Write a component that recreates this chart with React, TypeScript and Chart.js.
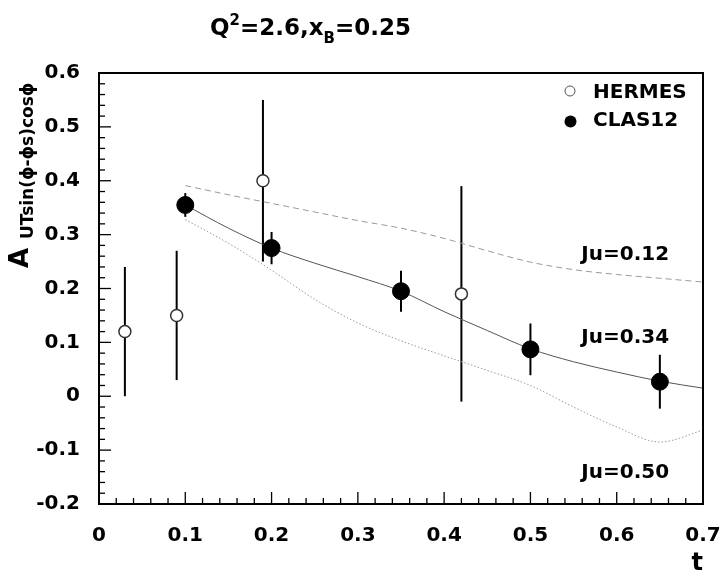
import React, { useEffect, useRef } from 'react';
import { Chart, registerables } from 'chart.js';

Chart.register(...registerables);

// ---- data ----
const curveT = [0.1, 0.15, 0.2, 0.25, 0.3, 0.35, 0.4, 0.45, 0.5, 0.55, 0.6, 0.65, 0.7];
const curveJu012 = [0.391, 0.374, 0.358, 0.342, 0.326, 0.312, 0.293, 0.27, 0.249, 0.235, 0.226, 0.219, 0.212];
const curveJu034 = [0.355, 0.312, 0.275, 0.247, 0.222, 0.195, 0.157, 0.122, 0.088, 0.064, 0.045, 0.028, 0.015];
const curveJu050 = [0.328, 0.284, 0.234, 0.18, 0.136, 0.103, 0.075, 0.048, 0.02, -0.02, -0.057, -0.085, -0.063];

const hermesT = [0.03, 0.09, 0.19, 0.42];
const hermesA = [0.12, 0.15, 0.4, 0.19];
const hermesErr = [0.12, 0.12, 0.15, 0.2];

const clasT = [0.1, 0.2, 0.35, 0.5, 0.65];
const clasA = [0.355, 0.275, 0.195, 0.087, 0.027];
const clasErr = [0.022, 0.03, 0.038, 0.048, 0.05];

const xTickValues = [0, 0.1, 0.2, 0.3, 0.4, 0.5, 0.6, 0.7];
const yTickValues = [-0.2, -0.1, 0, 0.1, 0.2, 0.3, 0.4, 0.5, 0.6];
const minorDivisions = 5;

const seriesNames = ['HERMES', 'CLAS12'];
const curveLabels = ['Ju=0.12', 'Ju=0.34', 'Ju=0.50'];
const curveLabelT = [0.559, 0.559, 0.559];
const curveLabelA = [0.253, 0.098, -0.152];

const FONT = '"DejaVu Sans", sans-serif';

function pts(xs: number[], ys: number[]) {
  return xs.map((x, i) => ({ x, y: ys[i] }));
}

const errorBarPlugin = {
  id: 'errorBars',
  beforeDatasetsDraw(chart: any) {
    const { ctx, scales } = chart;
    ctx.save();
    ctx.strokeStyle = '#000';
    ctx.lineWidth = 2;
    chart.data.datasets.forEach((ds: any) => {
      if (!ds.errors) return;
      ds.data.forEach((p: any, i: number) => {
        const px = scales.x.getPixelForValue(p.x);
        const y1 = scales.y.getPixelForValue(p.y - ds.errors[i]);
        const y2 = scales.y.getPixelForValue(p.y + ds.errors[i]);
        ctx.beginPath();
        ctx.moveTo(px, y1);
        ctx.lineTo(px, y2);
        ctx.stroke();
      });
    });
    ctx.restore();
  },
};

const decorPlugin = {
  id: 'decor',
  afterDatasetsDraw(chart: any) {
    const { ctx, chartArea: a, scales } = chart;
    const xs = scales.x;
    const ys = scales.y;
    ctx.save();
    ctx.strokeStyle = '#000';
    ctx.lineWidth = 1.3;
    // y ticks (inside, left)
    for (let i = 0; i < yTickValues.length; i++) {
      const v = yTickValues[i];
      const py = ys.getPixelForValue(v);
      ctx.beginPath();
      ctx.moveTo(a.left, py);
      ctx.lineTo(a.left + 12, py);
      ctx.stroke();
      if (i < yTickValues.length - 1) {
        const step = (yTickValues[i + 1] - v) / minorDivisions;
        for (let k = 1; k < minorDivisions; k++) {
          const my = ys.getPixelForValue(v + k * step);
          ctx.beginPath();
          ctx.moveTo(a.left, my);
          ctx.lineTo(a.left + 6, my);
          ctx.stroke();
        }
      }
    }
    // x ticks (inside, bottom)
    for (let i = 0; i < xTickValues.length; i++) {
      const v = xTickValues[i];
      const px = xs.getPixelForValue(v);
      ctx.beginPath();
      ctx.moveTo(px, a.bottom);
      ctx.lineTo(px, a.bottom - 12);
      ctx.stroke();
      if (i < xTickValues.length - 1) {
        const step = (xTickValues[i + 1] - v) / minorDivisions;
        for (let k = 1; k < minorDivisions; k++) {
          const mx = xs.getPixelForValue(v + k * step);
          ctx.beginPath();
          ctx.moveTo(mx, a.bottom);
          ctx.lineTo(mx, a.bottom - 6);
          ctx.stroke();
        }
      }
    }
    // frame
    ctx.lineWidth = 2;
    ctx.strokeRect(a.left, a.top, a.right - a.left, a.bottom - a.top);

    ctx.fillStyle = '#000';
    // curve labels
    ctx.font = `bold 20px ${FONT}`;
    ctx.textAlign = 'left';
    ctx.textBaseline = 'alphabetic';
    curveLabels.forEach((lab, i) => {
      ctx.fillText(lab, xs.getPixelForValue(curveLabelT[i]), ys.getPixelForValue(curveLabelA[i]));
    });

    // legend
    ctx.beginPath();
    ctx.arc(570, 91, 5, 0, Math.PI * 2);
    ctx.fillStyle = '#fff';
    ctx.fill();
    ctx.strokeStyle = '#555';
    ctx.lineWidth = 1;
    ctx.stroke();
    ctx.beginPath();
    ctx.arc(570.5, 121.5, 6, 0, Math.PI * 2);
    ctx.fillStyle = '#000';
    ctx.fill();
    ctx.font = `bold 20px ${FONT}`;
    ctx.fillText(seriesNames[0], 593, 98);
    ctx.fillText(seriesNames[1], 593, 126);

    // title: Q^2=2.6,x_B=0.25
    const big = `bold 23px ${FONT}`;
    const small = `bold 15px ${FONT}`;
    let x = 210;
    const base = 35;
    const parts: [string, string, number][] = [
      ['Q', big, 0],
      ['2', small, -10],
      ['=2.6,x', big, 0],
      ['B', small, 8],
      ['=0.25', big, 0],
    ];
    parts.forEach(([s, f, dy]) => {
      ctx.font = f;
      ctx.fillText(s, x, base + dy);
      x += ctx.measureText(s).width;
    });

    // x axis title
    ctx.font = `bold 24px ${FONT}`;
    ctx.textAlign = 'right';
    ctx.fillText('t', 703, 570);

    // y axis title (rotated)
    ctx.textAlign = 'left';
    ctx.save();
    ctx.translate(28, 268);
    ctx.rotate(-Math.PI / 2);
    ctx.font = `bold 26px ${FONT}`;
    ctx.fillText('A', 0, 0);
    ctx.restore();
    ctx.save();
    ctx.translate(33, 239);
    ctx.rotate(-Math.PI / 2);
    ctx.font = `bold 17px ${FONT}`;
    ctx.fillText('UTsin(\u03d5-\u03d5s)cos\u03d5', 0, 0);
    ctx.restore();

    ctx.restore();
  },
};

export default function App() {
  const ref = useRef<HTMLCanvasElement | null>(null);

  useEffect(() => {
    document.body.style.margin = '0';
    const canvas = ref.current;
    if (!canvas) return;
    const chart = new Chart(canvas, {
      type: 'scatter',
      data: {
        datasets: [
          {
            label: seriesNames[1],
            data: pts(clasT, clasA),
            errors: clasErr,
            showLine: false,
            pointRadius: 8.5,
            pointBackgroundColor: '#000',
            pointBorderColor: '#000',
            pointBorderWidth: 1,
            order: 0,
          } as any,
          {
            label: seriesNames[0],
            data: pts(hermesT, hermesA),
            errors: hermesErr,
            showLine: false,
            pointRadius: 6,
            pointBackgroundColor: '#fff',
            pointBorderColor: '#333',
            pointBorderWidth: 1.5,
            order: 1,
          } as any,
          {
            label: curveLabels[1],
            data: pts(curveT, curveJu034),
            showLine: true,
            borderColor: '#555',
            borderWidth: 1,
            pointRadius: 0,
            cubicInterpolationMode: 'monotone',
            order: 2,
          },
          {
            label: curveLabels[0],
            data: pts(curveT, curveJu012),
            showLine: true,
            borderColor: '#999',
            borderWidth: 1,
            borderDash: [6, 4],
            pointRadius: 0,
            cubicInterpolationMode: 'monotone',
            order: 3,
          },
          {
            label: curveLabels[2],
            data: pts(curveT, curveJu050),
            showLine: true,
            borderColor: '#999',
            borderWidth: 1,
            borderDash: [1.5, 2],
            pointRadius: 0,
            cubicInterpolationMode: 'monotone',
            order: 4,
          },
        ],
      },
      options: {
        responsive: false,
        animation: false,
        events: [],
        layout: { padding: { top: 73, right: 19, left: 0, bottom: 0 } },
        plugins: {
          legend: { display: false },
          title: { display: false },
          tooltip: { enabled: false },
        },
        scales: {
          x: {
            type: 'linear',
            min: 0,
            max: 0.7,
            grid: { display: false, drawTicks: false },
            border: { display: false },
            afterFit: (s: any) => {
              s.height = 69;
            },
            afterBuildTicks: (s: any) => {
              s.ticks = xTickValues.map((v) => ({ value: v }));
            },
            ticks: {
              padding: 0,
              color: '#000',
              font: { family: FONT, weight: 'bold', size: 20, lineHeight: 3.2 },
              maxRotation: 0,
              callback: (v: any) => String(Number(Number(v).toFixed(1))),
            },
          },
          y: {
            type: 'linear',
            min: -0.2,
            max: 0.6,
            grid: { display: false, drawTicks: false },
            border: { display: false },
            afterFit: (s: any) => {
              s.width = 99;
            },
            afterBuildTicks: (s: any) => {
              s.ticks = yTickValues.map((v) => ({ value: v }));
            },
            ticks: {
              padding: 19,
              color: '#000',
              font: { family: FONT, weight: 'bold', size: 20 },
              callback: (v: any) => String(Number(Number(v).toFixed(1))),
            },
          },
        },
      },
      plugins: [errorBarPlugin, decorPlugin],
    } as any);
    return () => chart.destroy();
  }, []);

  return <canvas ref={ref} width={722} height={573} style={{ display: 'block' }} />;
}
